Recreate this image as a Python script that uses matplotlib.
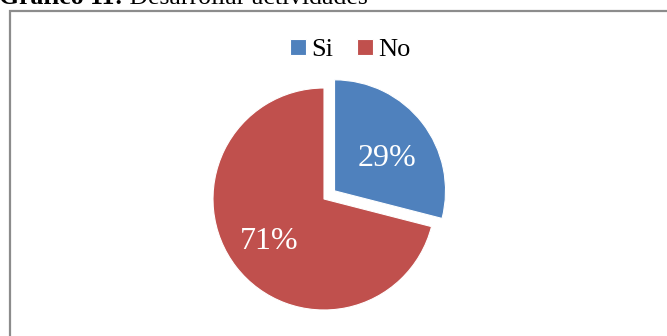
import numpy as np
import matplotlib.pyplot as plt
from matplotlib.patches import Rectangle

plt.rcParams['font.family'] = ['Liberation Serif', 'DejaVu Serif']

# Datos del gráfico
categorias = ['Si', 'No']
porcentajes = [29, 71]
colores = ['#4F81BD', '#C0504D']
titulo_negrita = 'Gráfico 11:'
titulo_texto = ' Desarrollar actividades'

fig = plt.figure(figsize=(6.67, 3.36), dpi=100)
fig.patch.set_facecolor('white')

# Marco del gráfico (se sale por la derecha y por abajo)
marco = Rectangle((10 / 667, -0.1), 1.2, 1 - 11 / 336 + 0.1, transform=fig.transFigure,
                  fill=False, edgecolor='#8c8c8c', linewidth=1.6, clip_on=False)
fig.patches.append(marco)

# Título cortado en la parte superior
t = fig.text(-0.002, 1 - 4 / 336, titulo_negrita, fontsize=18.5, fontweight='bold',
             ha='left', va='baseline')
fig.canvas.draw()
bb = t.get_window_extent()
fig.text(bb.x1 / fig.bbox.width, 1 - 4 / 336, titulo_texto, fontsize=18.5,
         ha='left', va='baseline')

# Área del pastel
r = 111
cx, cy = 324, 199
ax = fig.add_axes([(cx - r) / 667, 1 - (cy + r) / 336, 2 * r / 667, 2 * r / 336])
explode = [0.12, 0]
wedges, textos, autotextos = ax.pie(
    porcentajes, colors=colores, startangle=90, counterclock=False,
    explode=explode, autopct='%1.0f%%', pctdistance=0.62, radius=1,
    wedgeprops=dict(edgecolor='white', linewidth=0.8),
    textprops=dict(color='white', fontsize=23))

# La etiqueta de la porción separada queda un poco más abajo
w = wedges[0]
ang = np.radians((w.theta1 + w.theta2) / 2)
x0, y0 = w.center
autotextos[0].set_position((x0 + 0.6 * np.cos(ang), y0 + 0.47 * np.sin(ang)))

ax.set_xlim(-1, 1)
ax.set_ylim(-1, 1)
ax.set_aspect('equal')

# Leyenda superior
fig.legend(wedges, categorias, loc='center', bbox_to_anchor=(350 / 667, 1 - 50 / 336),
           ncol=2, frameon=False, fontsize=19, handlelength=0.6, handleheight=0.6,
           handletextpad=0.2, columnspacing=0.9)

fig.savefig('out.png', dpi=100)
